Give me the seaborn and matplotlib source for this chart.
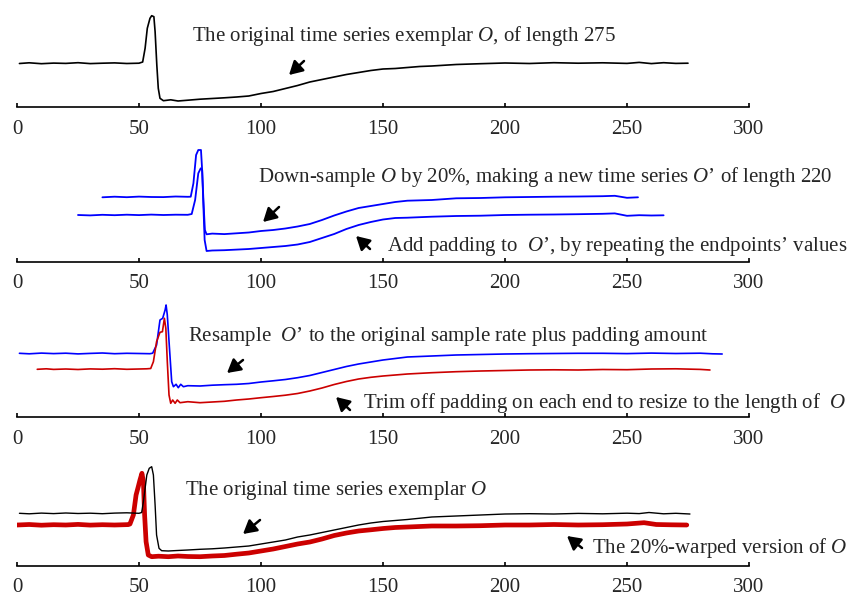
import matplotlib
matplotlib.use("Agg")
import matplotlib.pyplot as plt
import seaborn as sns
import numpy as np
import pandas as pd

sns.set_style("white")
plt.rcParams['font.family'] = ['Liberation Serif', 'DejaVu Serif']
plt.rcParams['mathtext.fontset'] = 'custom'
plt.rcParams['mathtext.rm'] = 'Liberation Serif'
plt.rcParams['mathtext.it'] = 'Liberation Serif:italic'

# values (height above each panel's axis line)
o_x = [1, 5, 10, 15, 20, 25, 30, 35, 40, 45, 50, 51.5, 52.5, 53.4, 54.5, 55.2, 56.1, 56.6, 57.3, 57.9, 58.6,
       60, 63, 66, 70, 75, 80, 85, 90, 95, 100, 105, 110, 115, 120, 125, 130, 135, 140, 145, 150, 155, 160,
       165, 170, 180, 190, 200, 210, 220, 230, 240, 250, 255, 260, 265, 270, 275]
o_y = [43.5, 44.2, 43.3, 43.9, 43.6, 44.3, 43.4, 43.8, 44.1, 43.5, 43.8, 45, 58.7, 78.7, 88.7, 91.3, 90.3, 75.3,
       42, 18.7, 8.7, 6.3, 7.2, 6.0, 6.8, 7.8, 8.5, 9.2, 10, 11, 13.5, 15.5, 18.5, 21.5, 25, 27.5, 30, 32.5,
       34.5, 36.5, 38, 38.5, 39.5, 40.5, 41, 42.5, 43.3, 44, 43.5, 44.3, 43.8, 44.2, 43.6, 44.6, 43.4, 44.3,
       43.6, 43.8]

down_x = [35, 40, 45, 50, 55, 60, 65, 70, 71.2, 72.3, 73.4, 74.3, 75.4, 75.8, 76.4, 77, 77.7, 80, 85, 90, 95,
          100, 105, 110, 115, 120, 125, 130, 135, 140, 145, 150, 155, 160, 170, 180, 190, 200, 210, 220, 230,
          240, 245, 250, 254.5]
down_y = [64.7, 65.3, 64.8, 65.4, 65, 64.9, 65.5, 65.2, 65.3, 78.7, 107, 112, 112, 95.3, 62, 32, 27.7, 28.4,
          27.9, 28.7, 29.5, 31, 32, 33.5, 35.5, 38, 42, 46.5, 50.5, 54, 56, 58, 60, 61.3, 62, 63.7, 64, 64.7,
          65, 65.3, 65.5, 65.8, 66.2, 64.2, 64.7]

pad_x = [25, 30, 35, 40, 45, 50, 55, 60, 65, 70, 71.6, 73, 74.3, 75.3, 75.9, 76.4, 76.9, 77.7, 80, 85, 90, 95,
         100, 105, 110, 115, 120, 125, 130, 135, 140, 145, 150, 155, 160, 170, 180, 190, 200, 210, 220, 230,
         240, 245, 250, 255, 260, 265]
pad_y = [47, 46.6, 47.2, 46.8, 47.3, 46.9, 47.4, 47, 47.3, 47.2, 48, 62, 88.7, 93.7, 92, 55.3, 22, 11, 11.5,
         11.8, 12.4, 13, 14, 15, 16, 17.5, 20, 24, 28, 33, 37, 40, 42.5, 44, 44.3, 45.3, 46, 46.3, 47, 47.3,
         47.5, 47.8, 48.2, 48.6, 46.2, 46.8, 46.5, 46.7]

res_x = [1, 5, 10, 15, 20, 25, 30, 35, 40, 45, 50, 54.5, 55.6, 57.2, 58.6, 59.7, 60.7, 61.1, 61.6, 62.4, 63.4,
         64.1, 65.2, 66.1, 67.1, 68.2, 70, 75, 80, 85, 90, 95, 100, 105, 110, 115, 120, 125, 130, 135, 140,
         145, 150, 155, 160, 170, 180, 190, 200, 210, 220, 230, 240, 250, 260, 270, 280, 285, 289]
res_y = [63.7, 63.2, 63.9, 63.4, 63.8, 63.1, 63.6, 64, 63.3, 63.7, 63.5, 63.3, 63.8, 72, 97, 98.7, 107, 112,
         102, 72, 35.3, 30.3, 32.7, 29.3, 32.7, 30.3, 31.3, 31, 31.8, 32.3, 32.7, 33.5, 35, 36.2, 37.5, 39.3,
         41.5, 44.5, 47.5, 50.5, 53, 55, 57, 58.5, 60, 61, 62, 62.5, 63, 63.3, 63.5, 63.7, 63.7, 63.4, 63.9,
         63.5, 63.8, 63.2, 63]

trim_x = [8.3, 12, 15, 20, 25, 30, 35, 40, 45, 50, 53.2, 54.8, 55.9, 57.2, 58.6, 59.6, 60.4, 61.0, 61.6, 62.3,
          63.0, 63.8, 64.8, 65.7, 66.8, 70, 75, 80, 85, 90, 95, 100, 105, 110, 115, 120, 125, 130, 135, 140,
          145, 150, 155, 160, 170, 180, 190, 200, 210, 220, 230, 240, 250, 260, 270, 280, 284]
trim_y = [47.7, 48.2, 47.6, 48, 47.5, 48.1, 47.8, 48.3, 47.7, 48, 48.2, 48.5, 55.3, 75.3, 84.7, 85.3, 98.7,
          88.7, 55.3, 22, 13.7, 17, 13.7, 17, 14.3, 15.3, 14.3, 15, 15.7, 17, 18, 19.3, 20.5, 21.8, 23.5, 26,
          29, 32.5, 35.5, 38, 39.7, 41, 42, 43, 44.3, 45.3, 46, 46.5, 47, 47.2, 47, 47.5, 47.3, 48, 48.2, 47.6,
          47]

orig_x = [1, 5, 10, 15, 20, 25, 30, 35, 40, 45, 50, 51.1, 51.8, 53.2, 54.2, 55.2, 55.9, 56.6, 57.2, 58.2,
          59.3, 62, 65, 70, 75, 80, 85, 90, 95, 100, 105, 110, 115, 120, 125, 130, 135, 140, 145, 150, 155,
          160, 170, 180, 190, 200, 210, 220, 230, 240, 250, 255, 259, 265, 270, 275.8]
orig_y = [52.7, 52.2, 52.9, 52.4, 53, 52.5, 52.8, 52.3, 52.9, 53.2, 52.7, 53.5, 64.3, 91, 97.7, 99.3, 91, 61,
          31, 17.7, 15.3, 15, 15.4, 16, 16.7, 17.2, 18, 19, 20, 22, 24, 26, 29, 31, 33.5, 36, 38.5, 41, 43,
          44.5, 45.5, 46.5, 49, 50, 51, 52, 52.3, 52, 52.6, 52.2, 52.8, 52.4, 53.5, 52.2, 52.7, 52]

warp_x = [0, 5, 10, 15, 20, 25, 30, 35, 40, 45.6, 46.3, 47.7, 48.8, 49.7, 50.4, 51.2, 51.8, 52.3, 52.9, 53.8,
          55.2, 58, 62, 66, 70, 75, 80, 85, 90, 95, 100, 105, 110, 115, 120, 125, 130, 135, 140, 145, 150,
          155, 160, 170, 180, 190, 200, 210, 220, 230, 240, 250, 257, 262, 268, 274.5]
warp_y = [41, 41.5, 40.8, 41.3, 41, 41.6, 40.9, 41.3, 41, 41.4, 42, 51, 71, 79.3, 86, 92.7, 84.3, 51, 24.3, 11,
          9.3, 9.8, 9.3, 10, 9.5, 9.3, 10, 10.5, 11.8, 13, 15, 17, 19.5, 22, 24, 27, 30.5, 33, 35, 36.2, 37.5,
          38.5, 39, 40, 40, 40.3, 41, 41, 41.5, 41, 41.3, 42, 43.3, 41.5, 41.2, 41]

BLUE = '#0000FF'
RED = '#CC0000'
W, H = 858, 604
FS = 15

fig = plt.figure(figsize=(W / 100, H / 100), dpi=100)

# (axis line y in pixels from top, axes height in pixels)
panels = [(107, 100), (262, 120), (417, 120), (566, 120)]
axes = []
for spine_y, h in panels:
    ax = fig.add_axes([17 / W, 1 - spine_y / H, 732 / W, h / H])
    ax.set_facecolor('none')
    ax.set_xlim(0, 300)
    ax.set_ylim(0, h)
    sns.despine(ax=ax, left=True, top=True, right=True)
    ax.spines['bottom'].set_linewidth(1.2)
    ax.spines['bottom'].set_color('black')
    ax.set_xticks([0, 50, 100, 150, 200, 250, 300])
    ax.set_yticks([])
    ax.tick_params(axis='x', direction='in', length=3, width=1.2, color='black',
                   labelsize=FS, pad=9, bottom=True)
    axes.append(ax)


def line(ax, x, y, color, lw):
    sns.lineplot(x=x, y=y, ax=ax, color=color, lw=lw, sort=False, estimator=None)


line(axes[0], o_x, o_y, 'black', 1.2)
line(axes[1], down_x, down_y, BLUE, 1.3)
line(axes[1], pad_x, pad_y, BLUE, 1.3)
line(axes[2], res_x, res_y, BLUE, 1.2)
line(axes[2], trim_x, trim_y, RED, 1.2)
line(axes[3], warp_x, warp_y, RED, 3.4)
line(axes[3], orig_x, orig_y, 'black', 1.0)

for ax in axes:
    ax.set_xlabel('')
    ax.set_ylabel('')


def fp(x, y):
    return (x / W, 1 - y / H)


def note(x, y, s):
    fig.text(x / W, 1 - y / H, s, ha='left', va='center', fontsize=FS)


def arrow(head, tail):
    axes[0].annotate('', xy=fp(*head), xycoords='figure fraction',
                     xytext=fp(*tail), textcoords='figure fraction',
                     arrowprops=dict(arrowstyle='-|>,head_length=0.8,head_width=0.45',
                                     color='black', lw=1.8, shrinkA=0, shrinkB=0))


note(192, 36, 'The original time series exemplar $O$, of length 275')
arrow((289, 75), (304, 61))

note(258, 177, 'Down-sample $O$ by 20%, making a new time series $O$\u2019 of length 220')
arrow((263, 222), (279, 207))
note(387, 246, 'Add padding to  $O$\u2019, by repeating the endpoints\u2019 values')
arrow((356, 236), (370, 249))

note(188, 336, 'Resample  $O$\u2019 to the original sample rate plus padding amount')
arrow((227, 373), (243, 360))
note(363, 403, 'Trim off padding on each end to resize to the length of  $O$')
arrow((336, 397), (350, 410))

note(185, 490, 'The original time series exemplar $O$')
arrow((243, 534), (260, 520))
note(592, 548, 'The 20%-warped version of $O$')
arrow((567, 536), (582, 548))

fig.savefig('out.png', dpi=100)
